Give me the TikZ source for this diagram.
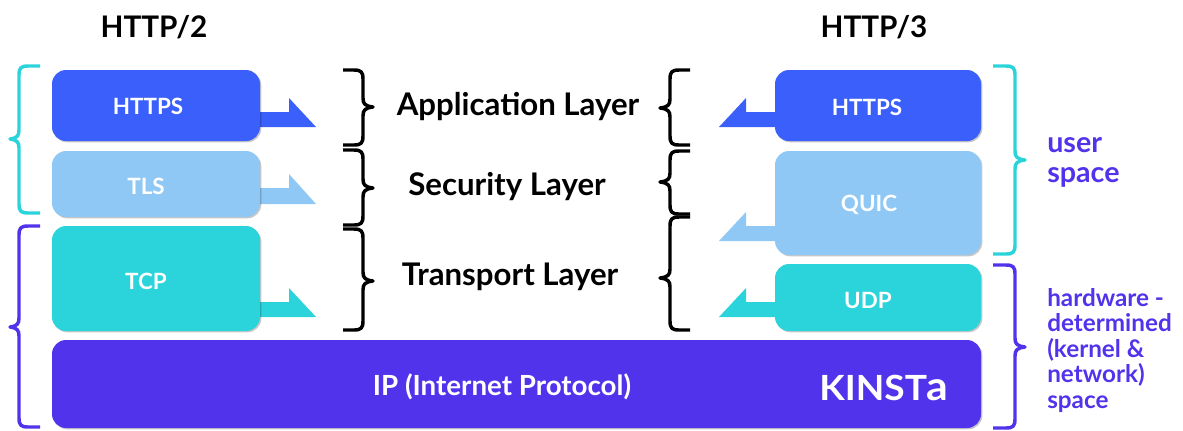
\documentclass[tikz,border=0pt]{standalone}
\usepackage{fontspec}
\setmainfont{Lato}
\usetikzlibrary{shadows}
\definecolor{cblue}{HTML}{3A5FFB}
\definecolor{clight}{HTML}{8FC8F5}
\definecolor{cteal}{HTML}{2BD4DB}
\definecolor{cpurple}{HTML}{5133EC}
\newcommand{\pxfont}[2]{\fontsize{#1pt}{#2pt}\selectfont}
\tikzset{
  x=0.75pt,y=-0.75pt,
  layerbox/.style={rounded corners=10.5pt,inner sep=0pt,draw=none,
    drop shadow={shadow xshift=1pt,shadow yshift=-1pt,opacity=.22,fill=black}},
  boxlabel/.style={text=white,font=\pxfont{16.8}{20}\bfseries,inner sep=0pt},
  layerlabel/.style={text=black,font=\pxfont{23.4}{26}\bfseries,inner sep=0pt},
  title/.style={text=black,font=\pxfont{22.3}{27}\bfseries,inner sep=0pt},
  sidetext/.style={text=cpurple,inner sep=0pt,align=left,anchor=north west},
  bracket/.style={line width=2.6pt,line cap=butt,line join=round},
}
% brace: end x, spine x, tip x, top y, tip y, bottom y, colour
\newcommand{\cbrace}[7]{%
  \pgfmathsetmacro{\sgn}{(#3>#2)?1:-1}
  \draw[bracket,#7] (#1,#4) -- ({#2-\sgn*9},#4)
    .. controls ({#2-\sgn*2},#4) and (#2,{#4+2}) .. (#2,{#4+9})
    -- (#2,{#5-9})
    .. controls (#2,{#5-3}) and ({#2+\sgn*2},{#5-1}) .. (#3,#5)
    .. controls ({#2+\sgn*2},{#5+1}) and (#2,{#5+3}) .. (#2,{#5+9})
    -- (#2,{#6-9})
    .. controls (#2,{#6-2}) and ({#2-\sgn*2},#6) .. ({#2-\sgn*9},#6)
    -- (#1,#6);}
% arrow: box name, root x, notch x, tip x, shaft top, head top, bottom, colour
\newcommand{\flagarrow}[8]{%
  \coordinate (#1tip) at (#4,#7);
  \fill[#8] (#2,#5) -- (#3,#5) -- (#3,#6) -- (#1tip) -- (#2,#7) -- cycle;}
\begin{document}
\begin{tikzpicture}
\useasboundingbox (0,0) rectangle (1183,430);
% arrows
\flagarrow{a1}{250}{289}{316}{112}{98}{127}{cblue}
\flagarrow{a2}{250}{289}{316}{188}{174}{204}{clight}
\flagarrow{a3}{250}{289}{316}{302}{288}{317}{cteal}
\flagarrow{b1}{785}{746}{719}{112}{98}{127}{cblue}
\flagarrow{b2}{785}{746}{719}{226}{212}{241}{clight}
\flagarrow{b3}{785}{746}{719}{302}{288}{317}{cteal}
% boxes
\node[layerbox,fill=cblue,minimum width=208*0.75pt,minimum height=71*0.75pt] (lhttps) at (156,105.5) {};
\node[layerbox,fill=clight,minimum width=208*0.75pt,minimum height=66*0.75pt] (ltls) at (156,184) {};
\node[layerbox,fill=cteal,minimum width=208*0.75pt,minimum height=105*0.75pt] (ltcp) at (156,278.5) {};
\node[layerbox,fill=cblue,minimum width=206*0.75pt,minimum height=71*0.75pt] (rhttps) at (878,105.5) {};
\node[layerbox,fill=clight,minimum width=206*0.75pt,minimum height=104*0.75pt] (rquic) at (878,203) {};
\node[layerbox,fill=cteal,minimum width=206*0.75pt,minimum height=67*0.75pt] (rudp) at (878,297.5) {};
\node[layerbox,fill=cpurple,minimum width=929*0.75pt,minimum height=88*0.75pt] (ip) at (516.5,384) {};
% box labels
\node[boxlabel] (t1) at (148,106.5) {HTTPS};
\node[boxlabel] (t2) at (146,186) {TLS};
\node[boxlabel] (t3) at (146,281) {TCP};
\node[boxlabel] (t4) at (867,107) {HTTPS};
\node[boxlabel] (t5) at (869,205) {QUIC};
\node[boxlabel] (t6) at (868,300) {UDP};
\node[boxlabel,font=\pxfont{20.8}{24}\bfseries] (t7) at (502,387) {IP (Internet Protocol)};
\node[text=white,font=\pxfont{26}{30}\bfseries,inner sep=0pt] (logo) at (884,388) {\scalebox{1.07}[1]{KINST{\pxfont{30}{30}a}}};
% titles
\node[title] (h2) at (154,27) {HTTP/2};
\node[title] (h3) at (874,27) {HTTP/3};
% layers
\node[layerlabel] (l1) at (518,106.5) {Application Layer};
\node[layerlabel] (l2) at (507,186.5) {Security Layer};
\node[layerlabel] (l3) at (510,276.5) {Transport Layer};
% side text
\node[sidetext,font=\pxfont{21.5}{22.5}\bfseries] (us) at (1047,137) {user\\space};
\node[sidetext,font=\pxfont{18.2}{19.1}\bfseries] (hw) at (1047,288) {hardware -\\determined\\(kernel \&\\network)\\space};
% outer braces
\cbrace{40}{19}{10}{66}{139}{213}{cteal}
\cbrace{40}{19}{10}{226}{327}{427}{cpurple}
\cbrace{993}{1015}{1025}{66}{160}{254}{cteal}
\cbrace{993}{1015}{1025}{265}{347}{428}{cpurple}
% middle braces
\cbrace{343}{363}{373}{70}{107}{145}{black}
\cbrace{343}{363}{373}{150}{188}{225}{black}
\cbrace{343}{363}{373}{229}{281}{330}{black}
\cbrace{690}{670}{660}{70}{108}{145}{black}
\cbrace{690}{670}{660}{151}{182}{214}{black}
\cbrace{690}{670}{660}{217}{278}{330}{black}
\end{tikzpicture}
\end{document}
